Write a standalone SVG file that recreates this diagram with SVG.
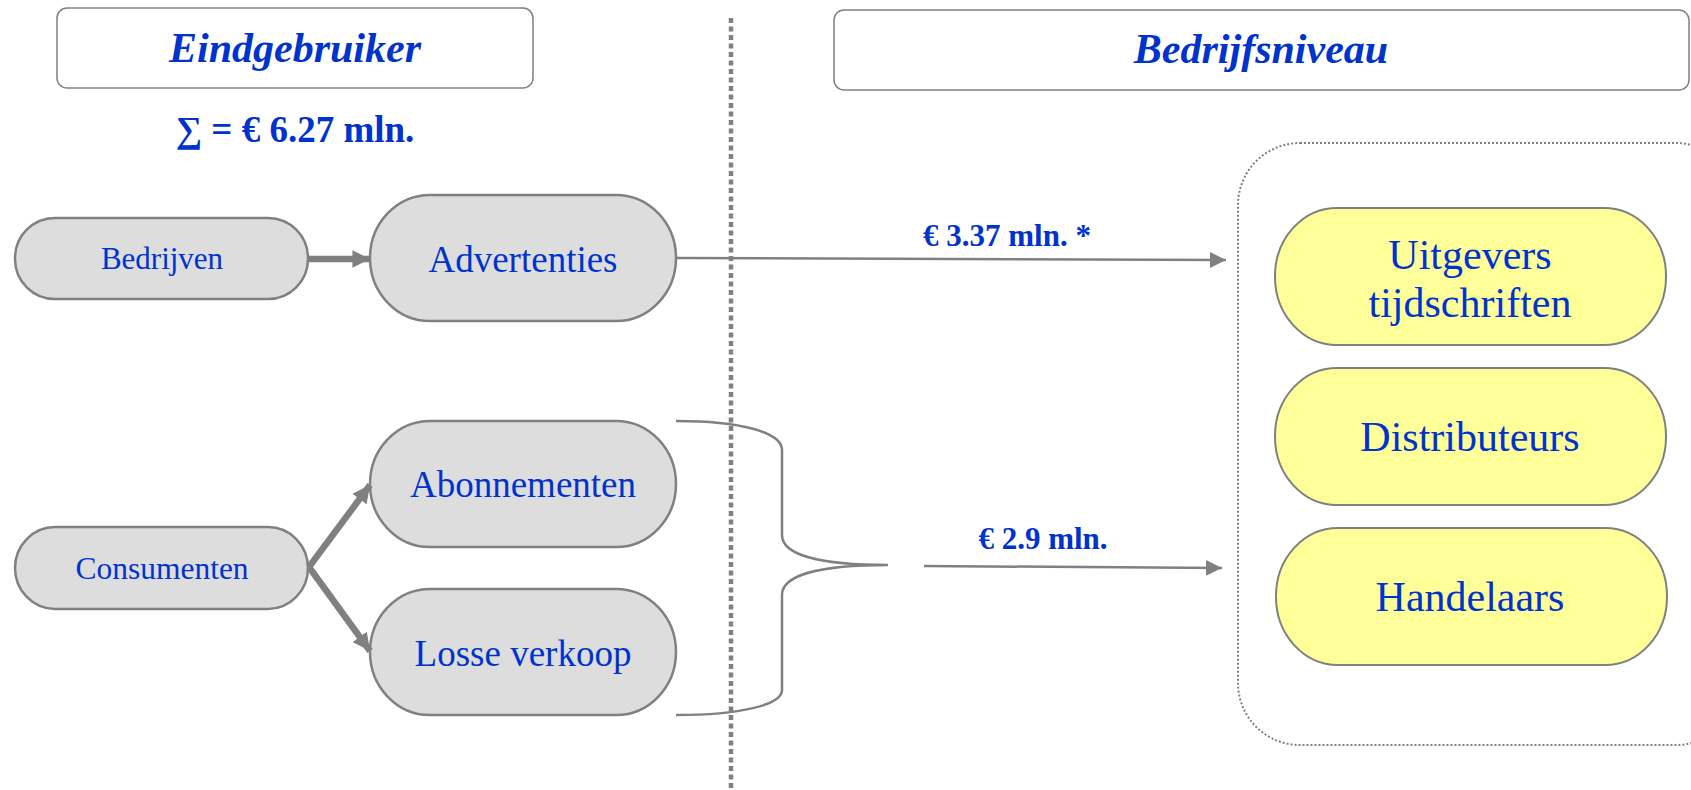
<svg xmlns="http://www.w3.org/2000/svg" width="1691" height="790" viewBox="0 0 1691 790">
<defs>
<style>
.hdr{fill:#fff;stroke:#808080;stroke-width:1.5}
.ttl{font-family:"Liberation Serif",serif;font-weight:bold;font-style:italic;font-size:42px;fill:#0033cc;text-anchor:middle}
.grey{fill:#dddddd;stroke:#808080;stroke-width:2.5}
.yel{fill:#ffff99;stroke:#808080;stroke-width:2}
.t{font-family:"Liberation Serif",serif;fill:#0033cc;text-anchor:middle}
.lbl{font-family:"Liberation Serif",serif;font-weight:bold;fill:#0033cc;text-anchor:middle}
.thick{stroke:#808080;stroke-width:6.5;fill:none}
.thin{stroke:#808080;stroke-width:2.5;fill:none}
</style>
<marker id="ah" viewBox="0 0 10 10" refX="10" refY="5" markerWidth="2.7" markerHeight="2.8" markerUnits="strokeWidth" orient="auto"><path d="M0,0 L10,5 L0,10 z" fill="#808080"/></marker>
<marker id="ahs" viewBox="0 0 10 10" refX="10" refY="5" markerWidth="6.4" markerHeight="6.8" markerUnits="strokeWidth" orient="auto"><path d="M0,0 L10,5 L0,10 z" fill="#808080"/></marker>
</defs>
<rect width="1691" height="790" fill="#fff"/>

<g id="divider"><line x1="731" y1="18" x2="731" y2="790" stroke="#808080" stroke-width="4.5" stroke-dasharray="5 3.5"/></g>

<g id="hdr-eind"><rect class="hdr" x="57" y="8" width="476" height="80" rx="10"/><text class="ttl" x="295" y="62">Eindgebruiker</text></g>
<g id="hdr-bedrijf"><rect class="hdr" x="834" y="10" width="855" height="80" rx="10"/><text class="ttl" x="1261" y="63">Bedrijfsniveau</text></g>

<g id="sum"><text class="lbl" x="295" y="142" font-size="37">∑ = € 6.27 mln.</text></g>

<g id="container"><rect x="1238" y="143" width="500" height="602" rx="62" fill="none" stroke="#808080" stroke-width="2" stroke-dasharray="2 2"/></g>

<g id="bedrijven"><rect class="grey" x="15" y="218" width="293" height="81" rx="40" ry="40"/><text class="t" x="162" y="269" font-size="31">Bedrijven</text></g>
<g id="advertenties"><rect class="grey" x="370" y="195" width="306" height="126" rx="60" ry="63"/><text class="t" x="523" y="272" font-size="37">Advertenties</text></g>
<g id="consumenten"><rect class="grey" x="15" y="527" width="293" height="82" rx="40" ry="41"/><text class="t" x="162" y="579" font-size="31.5">Consumenten</text></g>
<g id="abonnementen"><rect class="grey" x="370" y="421" width="306" height="126" rx="60" ry="63"/><text class="t" x="523" y="497" font-size="37">Abonnementen</text></g>
<g id="losse"><rect class="grey" x="370" y="589" width="306" height="126" rx="60" ry="63"/><text class="t" x="523" y="666" font-size="37">Losse verkoop</text></g>

<g id="uitgevers"><rect class="yel" x="1275" y="208" width="391" height="137" rx="62" ry="68"/><text class="t" x="1470" y="269" font-size="42">Uitgevers</text><text class="t" x="1470" y="317" font-size="42">tijdschriften</text></g>
<g id="distributeurs"><rect class="yel" x="1275" y="368" width="391" height="137" rx="62" ry="68"/><text class="t" x="1470" y="451" font-size="42">Distributeurs</text></g>
<g id="handelaars"><rect class="yel" x="1276" y="528" width="391" height="137" rx="62" ry="68"/><text class="t" x="1470" y="611" font-size="42">Handelaars</text></g>

<g id="connectors">
<line class="thick" x1="309" y1="259" x2="370" y2="259" marker-end="url(#ah)"/>
<line class="thick" x1="309" y1="567" x2="370" y2="485" marker-end="url(#ah)"/>
<line class="thick" x1="309" y1="567" x2="370" y2="651" marker-end="url(#ah)"/>
<line class="thin" x1="676" y1="258" x2="1226" y2="260" marker-end="url(#ahs)"/>
<path class="thin" d="M676,421 C740,421 782,432 782,450 L782,535 C782,555 820,565 888,565 C820,565 782,575 782,595 L782,690 C782,705 740,715 676,715"/>
<line class="thin" x1="924" y1="566" x2="1222" y2="568" marker-end="url(#ahs)"/>
<text class="lbl" x="1007" y="246" font-size="31">€ 3.37 mln. *</text>
<text class="lbl" x="1043" y="549" font-size="31">€ 2.9 mln.</text>
</g>
</svg>
